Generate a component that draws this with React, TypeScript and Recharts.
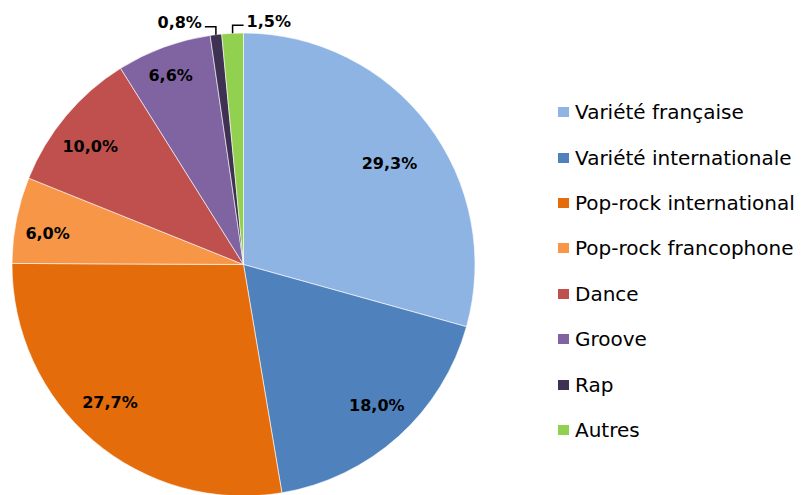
import { PieChart, Pie, Cell, Legend } from "recharts"

const genres = [
  "Variété française",
  "Variété internationale",
  "Pop-rock international",
  "Pop-rock francophone",
  "Dance",
  "Groove",
  "Rap",
  "Autres",
]
const shares = [29.3, 18.0, 27.7, 6.0, 10.0, 6.6, 0.8, 1.5]
const colors = ["#8EB4E3", "#4F81BD", "#E46C0A", "#F79646", "#C0504D", "#8064A2", "#3F3151", "#92D050"]

// label placement: fraction of radius for inside labels (null = outside with leader line),
// and a small angle nudge in degrees (clockwise) to mimic Excel's best-fit placement
const labelRadius = [0.768, 0.837, 0.831, 0.857, 0.836, 0.875, null, null]
const labelNudge = [2.4, -1.5, 3.6, -2, -2.3, -0.9, 0, 0]
const outsideSide = [0, 0, 0, 0, 0, 0, -1, 1]

const data = genres.map((name, i) => ({ name, value: shares[i] }))

const RAD = Math.PI / 180
const fmt = (v: number) => v.toFixed(1).replace(".", ",") + "%"

const renderLabel = (props: any) => {
  const { cx, cy, midAngle, outerRadius, index, value } = props
  const frac = labelRadius[index]
  const style = { fontFamily: "DejaVu Sans", fontWeight: 700, fontSize: 16, fill: "#000" }
  if (frac != null) {
    const a = midAngle - labelNudge[index]
    const x = cx + outerRadius * frac * Math.cos(-a * RAD)
    const y = cy + outerRadius * frac * Math.sin(-a * RAD)
    return (
      <text x={x} y={y} textAnchor="middle" dominantBaseline="central" style={style}>
        {fmt(value)}
      </text>
    )
  }
  const side = outsideSide[index]
  const ex = cx + outerRadius * Math.cos(-midAngle * RAD)
  const ey = cy + outerRadius * Math.sin(-midAngle * RAD)
  const ly = ey - 8
  const hx = ex + side * 11
  return (
    <g>
      <polyline points={`${ex},${ey} ${ex},${ly} ${hx},${ly}`} fill="none" stroke="#000" strokeWidth={1.5} />
      <text
        x={hx + side * 3}
        y={ly - 4}
        textAnchor={side < 0 ? "end" : "start"}
        dominantBaseline="central"
        style={style}
      >
        {fmt(value)}
      </text>
    </g>
  )
}

// legend drawn in the data order (Recharts would sort it otherwise)
const renderLegend = () => (
  <div style={{ fontFamily: "DejaVu Sans", fontSize: 20, color: "#000" }}>
    {genres.map((name, i) => (
      <div key={`leg-${i}`} style={{ height: 45.4, display: "flex", alignItems: "center", whiteSpace: "nowrap" }}>
        <span style={{ width: 11, height: 10, background: colors[i], marginRight: 6, display: "inline-block" }} />
        <span>{name}</span>
      </div>
    ))}
  </div>
)

export default function App() {
  return (
    <div>
      <style>{"body{margin:0;background:#fff}"}</style>
      <PieChart width={804} height={495} margin={{ top: 0, right: 0, bottom: 0, left: 0 }}>
        <Pie
          data={data}
          dataKey="value"
          nameKey="name"
          cx={243.5}
          cy={264.5}
          outerRadius={231.5}
          startAngle={90}
          endAngle={-270}
          stroke="#fff"
          strokeWidth={0.6}
          label={renderLabel}
          labelLine={false}
          isAnimationActive={false}
        >
          {data.map((entry, index) => (
            <Cell key={`cell-${index}`} fill={colors[index]} />
          ))}
        </Pie>
        <Legend
          content={renderLegend}
          layout="vertical"
          wrapperStyle={{ position: "absolute", left: 558, top: 89.5, width: 246 }}
        />
      </PieChart>
    </div>
  )
}
